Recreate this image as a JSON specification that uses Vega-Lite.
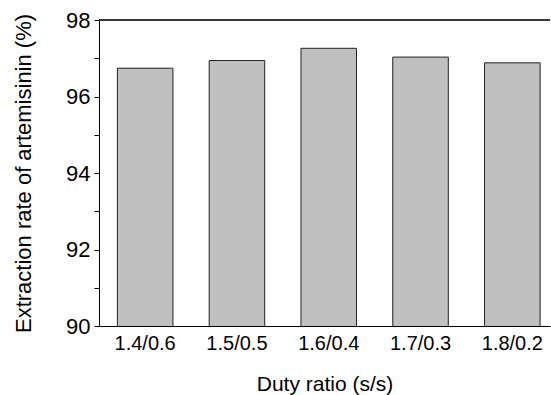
{
  "$schema": "https://vega.github.io/schema/vega-lite/v6.json",
  "width": 451,
  "height": 306,
  "autosize": "none",
  "padding": {"left": 99, "top": 20, "right": 1, "bottom": 69},
  "background": "white",
  "config": {"view": {"stroke": null}, "font": "Liberation Sans"},
  "data": {"values": [
    {"ratio": "1.4/0.6", "rate": 96.74},
    {"ratio": "1.5/0.5", "rate": 96.94},
    {"ratio": "1.6/0.4", "rate": 97.26},
    {"ratio": "1.7/0.3", "rate": 97.03},
    {"ratio": "1.8/0.2", "rate": 96.88}
  ]},
  "resolve": {"axis": {"y": "independent"}},
  "layer": [
    {
      "mark": {"type": "bar", "fill": "#c0c0c0", "stroke": "#222222", "strokeWidth": 1, "clip": true},
      "encoding": {
        "x": {"field": "ratio", "type": "nominal", "sort": null,
          "scale": {"paddingInner": 0.395, "paddingOuter": 0.154, "align": 0.65},
          "axis": {"title": "Duty ratio (s/s)", "labelAngle": 0, "ticks": false, "domainColor": "#000", "domainWidth": 1,
            "labelFontSize": 20, "labelColor": "#000", "labelPadding": 7, "labelFont": "Liberation Sans",
            "titleFontSize": 21, "titleFontWeight": "normal", "titleColor": "#000", "titlePadding": 20, "titleFont": "Liberation Sans"}},
        "y": {"field": "rate", "type": "quantitative",
          "scale": {"domain": [90, 98], "nice": false, "zero": false},
          "axis": {"title": "Extraction rate of artemisinin (%)", "values": [90, 91, 92, 93, 94, 95, 96, 97, 98],
            "labelExpr": "datum.value % 2 == 0 ? datum.label : ''", "grid": false,
            "tickSize": 5,
            "tickColor": "#000", "domainColor": "#000", "domainWidth": 1,
            "labelFontSize": 22, "labelColor": "#000", "labelPadding": 4, "labelFont": "Liberation Sans",
            "titleFontSize": 22, "titleFontWeight": "normal", "titleColor": "#000", "titlePadding": 30, "titleFont": "Liberation Sans"}}
      }
    },
    {
      "mark": {"type": "rule", "color": "#333", "strokeWidth": 1},
      "encoding": {"y": {"datum": 98, "axis": null}}
    }
  ]
}
